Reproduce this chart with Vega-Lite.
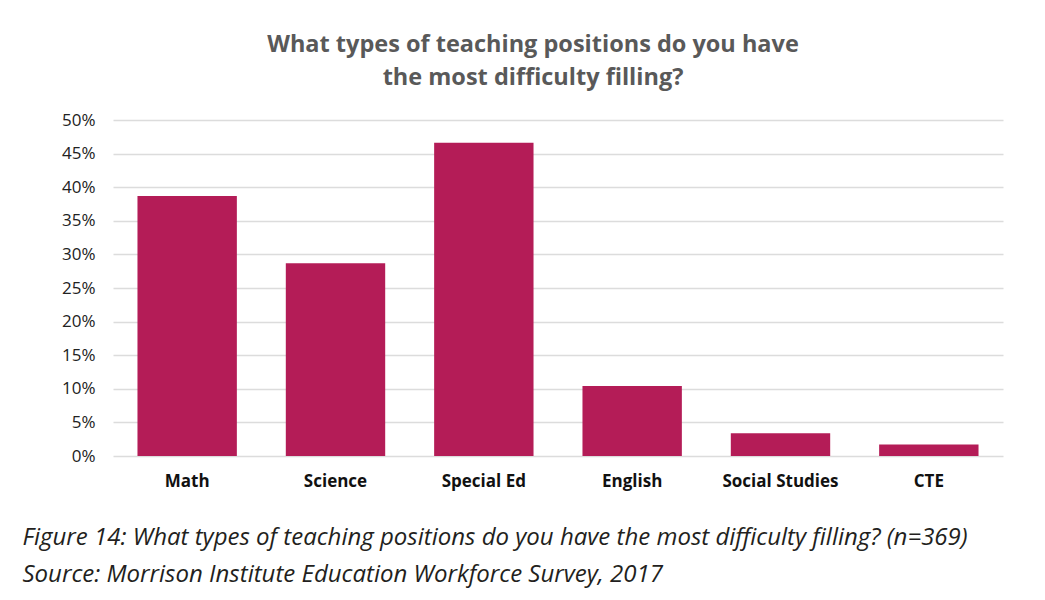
{
  "$schema": "https://vega.github.io/schema/vega-lite/v6.json",
  "width": 890,
  "height": 336,
  "autosize": "none",
  "padding": {"left": 113, "top": 120, "right": 42, "bottom": 144},
  "background": "white",
  "title": {
    "text": ["What types of teaching positions do you have", "the most difficulty filling?"],
    "font": "Open Sans",
    "fontSize": 23.5,
    "fontWeight": "bold",
    "color": "#595959",
    "lineHeight": 33,
    "anchor": "middle",
    "dx": -25,
    "offset": 22
  },
  "data": {
    "values": [
      {"position": "Math", "share": 0.387},
      {"position": "Science", "share": 0.287},
      {"position": "Special Ed", "share": 0.466},
      {"position": "English", "share": 0.104},
      {"position": "Social Studies", "share": 0.034},
      {"position": "CTE", "share": 0.017}
    ]
  },
  "mark": {"type": "bar", "color": "#B41C57"},
  "encoding": {
    "x": {
      "field": "position",
      "type": "nominal",
      "sort": null,
      "scale": {"paddingInner": 0.33, "paddingOuter": 0.165},
      "axis": {
        "title": ["Figure 14: What types of teaching positions do you have the most difficulty filling? (n=369)", "Source: Morrison Institute Education Workforce Survey, 2017"],
        "titleFont": "Open Sans",
        "titleFontStyle": "italic",
        "titleFontWeight": "normal",
        "titleFontSize": 24,
        "titleColor": "#231F20",
        "titleLineHeight": 37,
        "titleAnchor": "start",
        "titleAlign": "left",
        "titleBaseline": "top",
        "titleX": -91,
        "titleY": 69,
        "labelAngle": 0,
        "labelFont": "Open Sans",
        "labelFontSize": 17,
        "labelFontWeight": "bold",
        "labelColor": "#111111",
        "labelPadding": 17,
        "ticks": false,
        "domain": false,
        "grid": false
      }
    },
    "y": {
      "field": "share",
      "type": "quantitative",
      "scale": {"domain": [0, 0.5]},
      "axis": {
        "title": null,
        "format": ".0%",
        "values": [0, 0.05, 0.1, 0.15, 0.2, 0.25, 0.3, 0.35, 0.4, 0.45, 0.5],
        "labelFont": "Open Sans",
        "labelFontSize": 17,
        "labelColor": "#222222",
        "labelPadding": 18,
        "ticks": false,
        "domain": false,
        "grid": true,
        "gridColor": "#DCDCDC",
        "gridWidth": 1.5
      }
    }
  },
  "config": {"view": {"stroke": null}}
}
